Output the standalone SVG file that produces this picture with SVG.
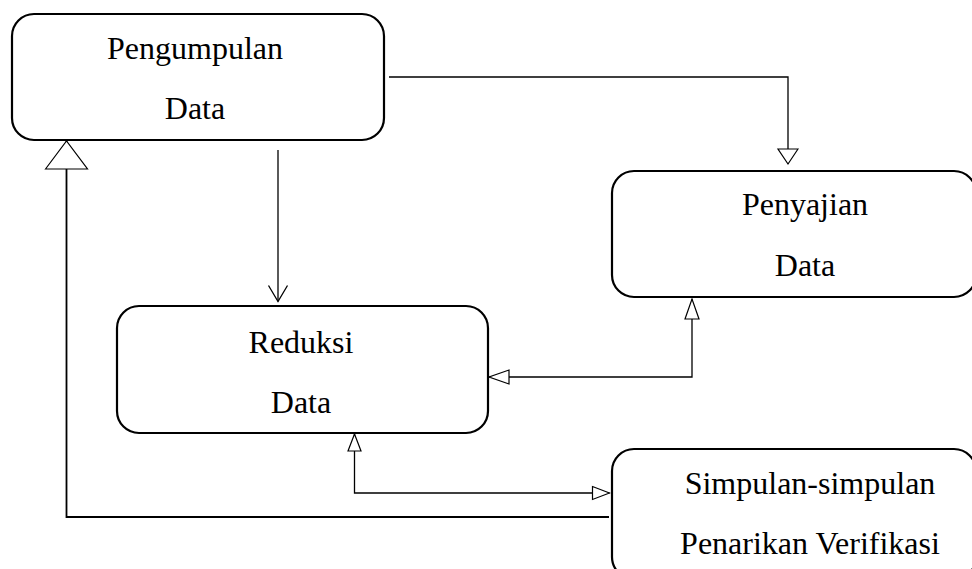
<svg xmlns="http://www.w3.org/2000/svg" width="972" height="569" viewBox="0 0 972 569">
<style>
.box{fill:#fff;stroke:#000;stroke-width:2.2}
.lbl{font-family:'Liberation Serif','Times New Roman',serif;font-size:32px;fill:#000;text-anchor:middle}
.con{fill:none;stroke:#000;stroke-width:1.3}
.thick{stroke-width:1.8}
.mk{fill:#fff;stroke:#000;stroke-width:1.2}
.mkv{fill:none;stroke:#000;stroke-width:1.3}
</style>
<defs>
<marker id="triM" markerUnits="userSpaceOnUse" markerWidth="24" markerHeight="18" viewBox="-2 -2 24 18" refX="20" refY="7" orient="auto-start-reverse">
<path class="mk" d="M0,0 L20,7 L0,14 Z"/>
</marker>
<marker id="triS" markerUnits="userSpaceOnUse" markerWidth="20" markerHeight="17" viewBox="-2 -2 20 17" refX="17" refY="6.5" orient="auto-start-reverse">
<path class="mk" d="M0,0 L17,6.5 L0,13 Z"/>
</marker>
<marker id="triW" markerUnits="userSpaceOnUse" markerWidth="19" markerHeight="24" viewBox="-2 -2 19 24" refX="15" refY="10" orient="auto">
<path class="mk" d="M0,0 L15,10 L0,20 Z"/>
</marker>
<marker id="triB" markerUnits="userSpaceOnUse" markerWidth="32" markerHeight="46" viewBox="-2 -2 32 46" refX="28" refY="21" orient="auto">
<path class="mk" d="M0,0 L28,21 L0,42 Z"/>
</marker>
<marker id="vee" markerUnits="userSpaceOnUse" markerWidth="20" markerHeight="23" viewBox="-2 -2 20 23" refX="16" refY="9.5" orient="auto">
<path class="mkv" d="M0,0 L16,9.5 L0,19"/>
</marker>
</defs>
<g id="connectors">
<path id="c1" class="con" d="M278,150 V301.5" marker-end="url(#vee)"/>
<path id="c2" class="con" d="M389,77 H788 V164" marker-end="url(#triW)"/>
<path id="c3" class="con" d="M692,299 V377 H489" marker-start="url(#triM)" marker-end="url(#triM)"/>
<path id="c4" class="con" d="M354.5,434 V493 H609.5" marker-start="url(#triS)" marker-end="url(#triS)"/>
<path id="c5" class="con thick" d="M609,517 H66.5 V141" marker-end="url(#triB)"/>
</g>
<g id="pengumpulan">
<rect class="box" x="12" y="14" width="372" height="126" rx="22"/>
<text class="lbl" x="195" y="59">Pengumpulan</text>
<text class="lbl" x="195" y="119">Data</text>
</g>
<g id="penyajian">
<rect class="box" x="612" y="171" width="364" height="126" rx="22"/>
<text class="lbl" x="805" y="215">Penyajian</text>
<text class="lbl" x="805" y="276">Data</text>
</g>
<g id="reduksi">
<rect class="box" x="117" y="306" width="371" height="127" rx="22"/>
<text class="lbl" x="301" y="353">Reduksi</text>
<text class="lbl" x="301" y="413">Data</text>
</g>
<g id="simpulan">
<rect class="box" x="612" y="449" width="364" height="130" rx="22"/>
<text class="lbl" x="810" y="494">Simpulan-simpulan</text>
<text class="lbl" x="810" y="554">Penarikan Verifikasi</text>
</g>
</svg>
